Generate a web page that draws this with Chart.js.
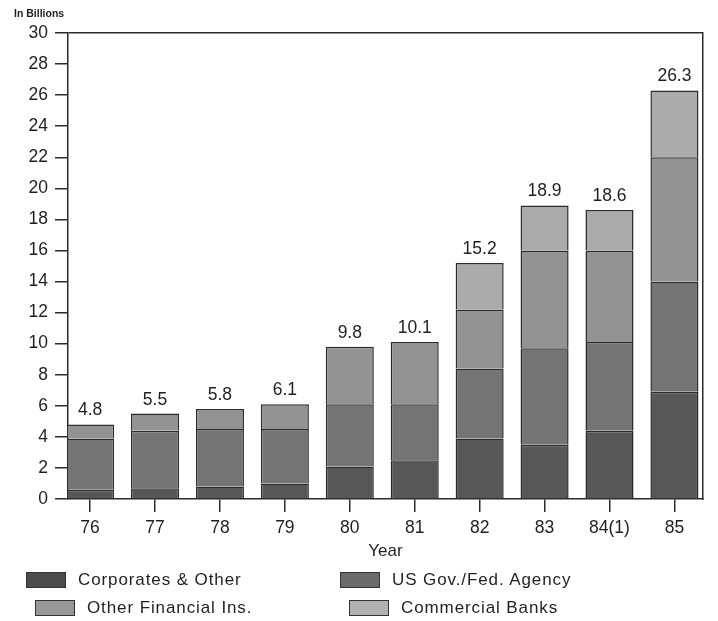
<!DOCTYPE html>
<html>
<head>
<meta charset="utf-8">
<script src="https://cdn.jsdelivr.net/npm/chart.js@4.4.1/dist/chart.umd.min.js"></script>
<style>
  html, body { margin: 0; padding: 0; background: #fff; }
  #wrap { position: relative; width: 718px; height: 621px; overflow: hidden; background: #fff; }
  #c { position: absolute; left: 0; top: 0; }
  .lg { position: absolute; display: flex; align-items: center; height: 16px;
        font: 17px "Liberation Sans", Arial, sans-serif; letter-spacing: 0.9px;
        color: #1f1f1f; white-space: nowrap; }
  .lg i { display: block; box-sizing: border-box; width: 40px; height: 16px;
          border: 1.5px solid #333; margin-right: 12px; }
</style>
</head>
<body>
<div id="wrap">
  <canvas id="c" width="718" height="621"></canvas>
  <div id="legend"></div>
</div>
<script>
// Year categories (1984 carries a footnote marker)
const years = ['76', '77', '78', '79', '80', '81', '82', '83', '84(1)', '85'];

// Holdings by investor group, in billions of dollars
const corporates      = [0.6, 0.7, 0.8, 1.0, 2.1, 2.5, 3.9, 3.5, 4.4, 6.9];
const usGov           = [3.3, 3.7, 3.7, 3.5, 4.0, 3.6, 4.5, 6.2, 5.7, 7.1];
const otherFinancial  = [0.9, 1.1, 1.3, 1.6, 3.7, 4.0, 3.8, 6.3, 5.9, 8.0];
const commercialBanks = [null, null, null, null, null, null, 3.0, 2.9, 2.6, 4.3];

const seriesNames = ['Corporates & Other', 'US Gov./Fed. Agency', 'Other Financial Ins.', 'Commercial Banks'];
const seriesValues = [corporates, usGov, otherFinancial, commercialBanks];
const seriesColors = ['#575757', '#747474', '#939393', '#ababab'];
const legendColors = ['#4c4c4c', '#6b6b6b', '#979797', '#b2b2b2'];

const INK = '#2b2b2b';
const TEXT = '#1f1f1f';
const FONT = '"Liberation Sans", Arial, sans-serif';

// Legend slots: two columns, second row slightly indented
const legendSlots = [
  { left: 26, top: 572 }, { left: 340, top: 572 },
  { left: 35, top: 600 }, { left: 349, top: 600 }
];

const datasets = seriesNames.map((name, s) => ({
  label: name,
  data: seriesValues[s].map((v, i) => ({ x: i, y: v })),
  backgroundColor: seriesColors[s],
  borderColor: INK,
  borderWidth: 1.5
}));

// Totals printed above every stacked column, plus the unit caption
const stackLabels = {
  id: 'stackLabels',
  afterDatasetsDraw(chart) {
    const { ctx } = chart;
    const xs = chart.scales.x, ys = chart.scales.y;
    ctx.save();
    ctx.fillStyle = TEXT;
    ctx.font = '17.5px ' + FONT;
    ctx.textAlign = 'center';
    ctx.textBaseline = 'alphabetic';
    years.forEach((_, i) => {
      const total = seriesValues.reduce((sum, arr) => sum + (arr[i] || 0), 0);
      ctx.fillText(total.toFixed(1), xs.getPixelForValue(i), ys.getPixelForValue(total) - 9);
    });
    ctx.font = 'bold 10.5px ' + FONT;
    ctx.textAlign = 'left';
    ctx.fillText('In Billions', 14, 17);
    ctx.restore();
  }
};

const chart = new Chart(document.getElementById('c'), {
  type: 'bar',
  data: { datasets },
  plugins: [stackLabels],
  options: {
    responsive: false,
    animation: false,
    layout: { padding: { left: 0, top: 33, right: 15, bottom: 59 } },
    plugins: { legend: { display: false }, tooltip: { enabled: false } },
    datasets: { bar: { categoryPercentage: 1, barPercentage: 0.74 } },
    scales: {
      x: {
        type: 'linear',
        stacked: true,
        min: -0.34,
        max: 9.44,
        offset: false,
        afterBuildTicks: s => { s.ticks = years.map((_, i) => ({ value: i })); },
        afterFit: s => { s.height = 63; },
        ticks: {
          callback: v => years[v],
          font: { family: FONT, size: 17.5 },
          color: TEXT,
          padding: 5.5,
          maxRotation: 0,
          autoSkip: false,
          includeBounds: false
        },
        grid: { offset: false, drawOnChartArea: false, drawTicks: true, tickLength: 13, color: INK, lineWidth: 1.5 },
        border: { display: true, color: INK, width: 1.5 },
        title: { display: true, text: 'Year', color: TEXT,
                 font: { family: FONT, size: 17 }, padding: { top: 0, bottom: 0 } }
      },
      y: {
        stacked: true,
        min: 0,
        max: 30,
        afterFit: s => { s.width = 68; },
        ticks: { stepSize: 2, font: { family: FONT, size: 17.5 }, color: TEXT, padding: 7 },
        grid: {
          color: c => (c.tick && c.tick.value === 30) ? INK : 'rgba(0,0,0,0)',
          tickColor: INK,
          tickLength: 13,
          lineWidth: 1.5
        },
        border: { color: INK, width: 1.5 }
      },
      y2: {
        position: 'right',
        min: 0,
        max: 30,
        afterFit: s => { s.width = 0; },
        ticks: { display: false },
        grid: { drawOnChartArea: false, drawTicks: false },
        border: { display: true, color: INK, width: 1.5 }
      }
    }
  }
});

// Two-column legend built from the datasets
const legendEl = document.getElementById('legend');
chart.data.datasets.forEach((ds, k) => {
  const item = document.createElement('div');
  item.className = 'lg';
  item.style.left = legendSlots[k].left + 'px';
  item.style.top = legendSlots[k].top + 'px';
  const sw = document.createElement('i');
  sw.style.background = legendColors[k];
  const txt = document.createElement('span');
  txt.textContent = ds.label;
  item.appendChild(sw);
  item.appendChild(txt);
  legendEl.appendChild(item);
});
</script>
</body>
</html>
